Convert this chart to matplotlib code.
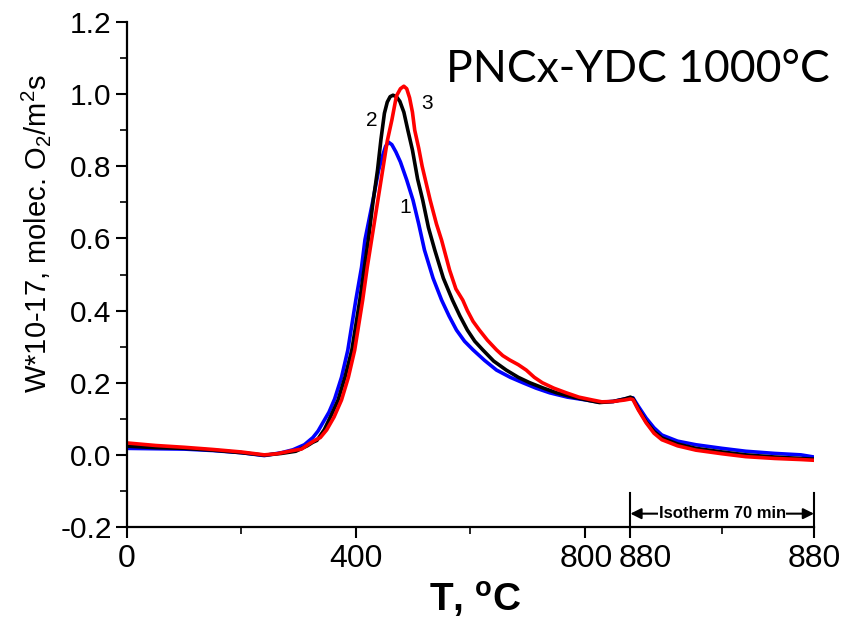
import numpy as np
import matplotlib
matplotlib.use("Agg")
import matplotlib.pyplot as plt

plt.rcParams['font.family'] = ['Liberation Sans', 'DejaVu Sans']
plt.rcParams['mathtext.fontset'] = 'custom'
plt.rcParams['mathtext.rm'] = 'Liberation Sans'
plt.rcParams['mathtext.it'] = 'Liberation Sans:italic'
plt.rcParams['mathtext.bf'] = 'Liberation Sans:bold'
plt.rcParams['mathtext.default'] = 'regular'

# ---------------- data ----------------
# heating ramp: temperature (deg C) -> rate
t1 = [0, 50, 100, 150, 200, 240, 270, 290, 310, 325, 334, 342, 353, 363, 375, 386,
      400, 410, 416, 430, 440, 447, 452, 457, 463, 470, 478, 489, 500, 510, 520, 535,
      550, 563, 576, 590, 605, 625, 646, 670, 692, 715, 739, 770, 803, 826, 850, 870, 880]
w1 = [0.018, 0.017, 0.016, 0.012, 0.006, -0.002, 0.006, 0.014, 0.028, 0.048, 0.066,
      0.088, 0.118, 0.155, 0.215, 0.290, 0.429, 0.520, 0.596, 0.706, 0.790, 0.830,
      0.855, 0.867, 0.860, 0.840, 0.812, 0.762, 0.706, 0.640, 0.568, 0.490, 0.429,
      0.385, 0.346, 0.315, 0.291, 0.262, 0.235, 0.215, 0.200, 0.185, 0.172, 0.160,
      0.152, 0.146, 0.148, 0.155, 0.158]

t2 = [0, 50, 100, 150, 200, 240, 270, 295, 315, 325, 332, 345, 357, 369, 381, 393,
      407, 415, 423, 430, 438, 444, 450, 455, 460, 465, 471, 477, 484, 491, 499, 508,
      517, 527, 538, 553, 569, 582, 595, 608, 622, 641, 663, 684, 704, 728, 751, 780,
      810, 826, 850, 870, 880]
w2 = [0.024, 0.020, 0.018, 0.013, 0.006, -0.001, 0.004, 0.010, 0.025, 0.035, 0.040,
      0.070, 0.110, 0.152, 0.215, 0.290, 0.429, 0.520, 0.610, 0.700, 0.790, 0.875,
      0.947, 0.978, 0.993, 0.997, 0.993, 0.980, 0.950, 0.900, 0.845, 0.765, 0.706,
      0.630, 0.568, 0.490, 0.429, 0.385, 0.346, 0.315, 0.291, 0.260, 0.235, 0.215,
      0.200, 0.185, 0.172, 0.160, 0.150, 0.145, 0.148, 0.155, 0.160]

t3 = [0, 50, 100, 150, 200, 240, 262, 290, 305, 318, 328, 338, 349, 362, 375, 387,
      398, 412, 420, 430, 438, 447, 455, 463, 471, 478, 484, 489, 494, 499, 503, 510,
      516, 530, 541, 550, 564, 575, 587, 595, 605, 616, 630, 646, 657, 669, 684, 698,
      712, 726, 746, 768, 790, 814, 830, 850, 870, 880]
w3 = [0.033, 0.026, 0.021, 0.015, 0.008, 0.000, 0.003, 0.012, 0.016, 0.030, 0.040,
      0.048, 0.069, 0.105, 0.152, 0.215, 0.290, 0.429, 0.520, 0.620, 0.700, 0.790,
      0.870, 0.928, 0.995, 1.015, 1.022, 1.015, 0.990, 0.950, 0.900, 0.850, 0.800,
      0.706, 0.640, 0.595, 0.512, 0.460, 0.429, 0.400, 0.370, 0.346, 0.318, 0.291,
      0.275, 0.263, 0.250, 0.235, 0.215, 0.200, 0.185, 0.172, 0.160, 0.152, 0.147,
      0.148, 0.152, 0.155]

# isotherm at 880 C: time (min) -> rate
m_iso = [0, 1, 3, 6, 9, 12, 18, 25, 35, 44, 55, 65, 70]
i1 = [0.160, 0.158, 0.135, 0.102, 0.075, 0.055, 0.038, 0.028, 0.018, 0.010, 0.004, 0.000, -0.006]
i2 = [0.160, 0.156, 0.128, 0.092, 0.065, 0.047, 0.030, 0.018, 0.008, 0.000, -0.006, -0.010, -0.012]
i3 = [0.155, 0.153, 0.125, 0.089, 0.060, 0.042, 0.025, 0.013, 0.003, -0.005, -0.010, -0.013, -0.015]

x_major_labels = ['0', '400', '800', '880', '880']
curve_labels = ['1', '2', '3']
title = 'PNCx-YDC 1000°C'

# ---------------- layout ----------------
T_END = 880.0
ISO_MIN = 70.0
ISO_SPAN = 321.0          # axis units occupied by the 70-min isotherm
def iso_x(m):
    return T_END + np.asarray(m, float) * ISO_SPAN / ISO_MIN

X_MAX = float(iso_x(ISO_MIN))

fig = plt.figure(figsize=(8.51, 6.2), dpi=100)
ax = fig.add_axes([127/851, 1-527/620, (814-127)/851, (527-22)/620])

colors = ['#0000ff', '#000000', '#ff0000']
for (t, w, iw, c) in [(t1, w1, i1, colors[0]), (t2, w2, i2, colors[1]), (t3, w3, i3, colors[2])]:
    x = np.concatenate([np.asarray(t, float), iso_x(m_iso)[1:]])
    y = np.concatenate([np.asarray(w, float), np.asarray(iw, float)[1:]])
    ax.plot(x, y, color=c, lw=2.6, solid_joinstyle='round', solid_capstyle='round')

ax.set_xlim(0, X_MAX)
ax.set_ylim(-0.2, 1.2)

for s in ['top', 'right']:
    ax.spines[s].set_visible(False)
for s in ['left', 'bottom']:
    ax.spines[s].set_linewidth(1.6)

xticks = [0, 400, 800, 880, X_MAX]
ax.set_xticks(xticks)
# the two crowded labels (800, 880) are drawn separately with a small nudge
ax.set_xticklabels([x_major_labels[0], x_major_labels[1], '', '', x_major_labels[4]])
ax.set_xticks([200, 600, float(iso_x(35))], minor=True)
yt = np.round(np.arange(-0.2, 1.21, 0.2), 1)
ax.set_yticks(yt)
ax.set_yticklabels([f'{v:.1f}' for v in yt])
ax.set_yticks(np.round(np.arange(-0.1, 1.2, 0.2), 1), minor=True)
ax.tick_params(axis='both', which='major', direction='out', length=8, width=1.5)
ax.tick_params(axis='both', which='minor', direction='out', length=5, width=1.2)
ax.tick_params(axis='x', labelsize=23, pad=4)
ax.tick_params(axis='y', labelsize=21.5, pad=3)

for idx, dx_px in [(2, 1.5), (3, 15.0)]:
    ax.annotate(x_major_labels[idx], xy=(xticks[idx], 0), xycoords=('data', 'axes fraction'),
                xytext=(dx_px * 0.72, -12), textcoords='offset points',
                ha='center', va='top', fontsize=23)

ax.set_ylabel('W*10-17, molec. O$_2$/m$^2$s', fontsize=21)
ax.yaxis.set_label_coords(-0.108, 0.58)

fig.text(475/851, 1-612/620, r'T, $\mathbf{^{o}}$C', ha='center', va='baseline',
         fontsize=28, fontweight='bold')

fig.text(830/851, 1-82/620, title, ha='right', va='baseline',
         fontsize=32, family=['Lato', 'DejaVu Sans'])

# curve numbers
ax.text(428, 0.928, curve_labels[1], fontsize=15, ha='center', va='center')
ax.text(525, 0.975, curve_labels[2], fontsize=15, ha='center', va='center')
ax.text(487, 0.687, curve_labels[0], fontsize=15, ha='center', va='center')

# isotherm annotation
for xv in [T_END, X_MAX]:
    ax.plot([xv, xv], [-0.105, -0.2], color='black', lw=1.5, clip_on=False)
ax.annotate('', xy=(T_END, -0.163), xytext=(X_MAX, -0.163),
            arrowprops=dict(arrowstyle='<|-|>', color='black', lw=1.5,
                            mutation_scale=16, shrinkA=0, shrinkB=0))
ax.text((T_END + X_MAX) / 2, -0.163, 'Isotherm 70 min', ha='center', va='center',
        fontsize=12, fontweight='bold',
        family=['Liberation Sans Narrow', 'Liberation Sans'],
        bbox=dict(facecolor='white', edgecolor='none', pad=0.5))

fig.savefig('out.png', dpi=100)
